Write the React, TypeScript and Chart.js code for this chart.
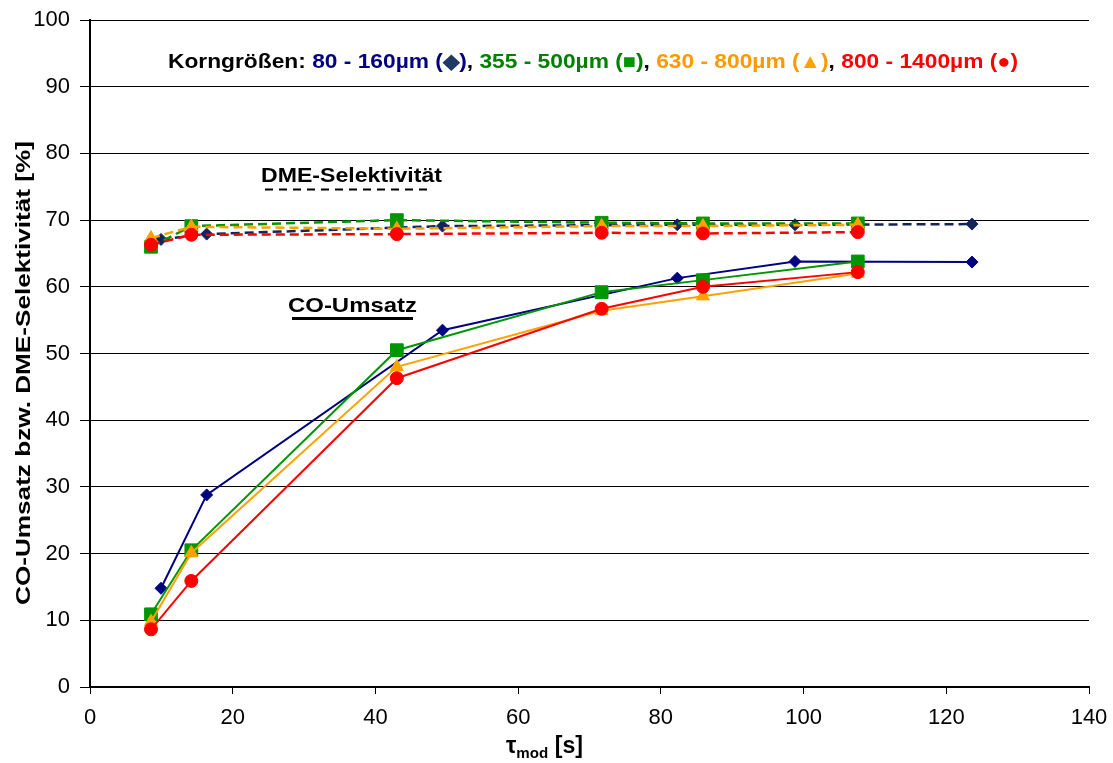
import React, { useEffect, useRef } from 'react';
import { Chart, registerables } from 'chart.js';
Chart.register(...registerables);

// ---- data ----
const xBlue = [9.95, 16.35, 49.4, 82.3, 98.8, 123.6];
const coBlue = [14.8, 28.8, 53.5, 61.3, 63.8, 63.7];
const dmeBlue = [67.1, 67.9, 69.1, 69.3, 69.3, 69.4];

const xOther = [8.55, 14.2, 43.0, 71.7, 85.9, 107.6];
const coGreen = [10.9, 20.5, 50.5, 59.2, 61.0, 63.8];
const dmeGreen = [66.0, 69.1, 70.0, 69.6, 69.5, 69.5];
const coOrange = [9.8, 20.1, 48.0, 56.4, 58.6, 62.0];
const dmeOrange = [67.3, 69.0, 68.7, 69.1, 69.1, 69.3];
const coRed = [8.65, 15.9, 46.3, 56.7, 60.0, 62.2];
const dmeRed = [66.3, 67.8, 67.9, 68.1, 68.0, 68.2];

const xMin = 0, xMax = 140, xStep = 20;
const yMin = 0, yMax = 100, yStep = 10;

const seriesLabels = ['80 - 160µm', '355 - 500µm', '630 - 800µm', '800 - 1400µm'];
const yTitle = 'CO-Umsatz bzw. DME-Selektivität [%]';
const coLabel = 'CO-Umsatz';
const dmeLabel = 'DME-Selektivität';

const NAVY = '#000080';
const NAVY2 = '#13235C';
const GREEN = '#009600';
const ORANGE = '#FFA200';
const RED = '#FF0000';

const pts = (xs: number[], ys: number[]) => xs.map((x, i) => ({ x, y: ys[i] }));

type Seg = { t: string; c: string; f: string };

function fitSegs(ctx: CanvasRenderingContext2D, segs: Seg[], cx: number, base: number, width: number) {
  let total = 0;
  const ws: number[] = [];
  for (const s of segs) {
    ctx.font = s.f;
    const w = ctx.measureText(s.t).width;
    ws.push(w);
    total += w;
  }
  const k = width / total;
  ctx.save();
  ctx.translate(cx - width / 2, base);
  ctx.scale(k, 1);
  ctx.textAlign = 'left';
  ctx.textBaseline = 'alphabetic';
  let x = 0;
  segs.forEach((s, i) => {
    ctx.font = s.f;
    ctx.fillStyle = s.c;
    ctx.fillText(s.t, x, 0);
    x += ws[i];
  });
  ctx.restore();
}

const NARROW = '"Liberation Sans Narrow", "Liberation Sans", Arial, sans-serif';
const SANS = '"Liberation Sans", Arial, sans-serif';

const annotPlugin = {
  id: 'annot',
  afterDraw(chart: any) {
    const ctx: CanvasRenderingContext2D = chart.ctx;
    ctx.save();
    const fL = `bold 21px ${NARROW}`;
    const fS = `bold 20px ${SANS}`;
    // legend line
    const legend: Seg[] = [
      { t: 'Korngrößen: ', c: '#000000', f: fL },
      { t: seriesLabels[0] + ' (', c: NAVY, f: fL },
      { t: '◆', c: '#1F3864', f: fS },
      { t: ')', c: NAVY, f: fL },
      { t: ', ', c: '#000000', f: fL },
      { t: seriesLabels[1] + ' (', c: '#008000', f: fL },
      { t: '■', c: GREEN, f: fS },
      { t: ')', c: '#008000', f: fL },
      { t: ', ', c: '#000000', f: fL },
      { t: seriesLabels[2] + ' (', c: '#FF9900', f: fL },
      { t: '▲', c: ORANGE, f: fS },
      { t: ')', c: '#FF9900', f: fL },
      { t: ', ', c: '#000000', f: fL },
      { t: seriesLabels[3] + ' (', c: RED, f: fL },
      { t: '●', c: RED, f: fS },
      { t: ')', c: RED, f: fL },
    ];
    fitSegs(ctx, legend, 593, 68, 850);

    // DME label + dashed underline
    fitSegs(ctx, [{ t: dmeLabel, c: '#000', f: `bold 21px ${SANS}` }], 351.5, 182, 181);
    ctx.strokeStyle = '#000';
    ctx.lineWidth = 2;
    ctx.setLineDash([8, 6]);
    ctx.beginPath();
    ctx.moveTo(265, 189.5);
    ctx.lineTo(430, 189.5);
    ctx.stroke();
    ctx.setLineDash([]);

    // CO label + solid underline
    fitSegs(ctx, [{ t: coLabel, c: '#000', f: `bold 21px ${SANS}` }], 352.5, 312, 129);
    ctx.lineWidth = 3;
    ctx.beginPath();
    ctx.moveTo(292, 318.5);
    ctx.lineTo(413, 318.5);
    ctx.stroke();

    // y title
    ctx.save();
    ctx.translate(22, 373);
    ctx.rotate(-Math.PI / 2);
    fitSegs(ctx, [{ t: yTitle, c: '#000', f: `bold 21px ${NARROW}` }], 0, 7.5, 464);
    ctx.restore();

    // x title: tau_mod [s]
    const tFont = `bold 23px ${SANS}`;
    const sFont = `bold 15px ${SANS}`;
    ctx.fillStyle = '#000';
    ctx.textBaseline = 'alphabetic';
    ctx.textAlign = 'left';
    ctx.font = tFont;
    const wt = ctx.measureText('τ').width;
    ctx.font = sFont;
    const wm = ctx.measureText('mod').width;
    ctx.font = tFont;
    const ws = ctx.measureText(' [s]').width;
    const total = wt + wm + ws;
    const k = 77 / total;
    ctx.save();
    ctx.translate(506, 0);
    ctx.scale(k, 1);
    ctx.font = tFont;
    ctx.fillText('τ', 0, 753);
    ctx.font = sFont;
    ctx.fillText('mod', wt, 758);
    ctx.font = tFont;
    ctx.fillText(' [s]', wt + wm, 753);
    ctx.restore();

    ctx.restore();
  },
};

export default function App() {
  const ref = useRef<HTMLCanvasElement | null>(null);
  useEffect(() => {
    if (!ref.current) return;
    const mk = (label: string, xs: number[], ys: number[], color: string, mcolor: string, style: string, r: number, dashed: boolean, order: number) => ({
      label,
      data: pts(xs, ys),
      showLine: true,
      borderColor: color,
      backgroundColor: mcolor,
      borderWidth: dashed ? 2.5 : 2,
      borderDash: dashed ? [9, 5] : [],
      pointStyle: style,
      pointRadius: r,
      pointBackgroundColor: mcolor,
      pointBorderColor: mcolor,
      pointBorderWidth: 1,
      tension: 0,
      order,
    });
    const chart = new Chart(ref.current, {
      type: 'scatter',
      data: {
        datasets: [
          mk('CO ' + seriesLabels[0], xBlue, coBlue, NAVY, NAVY, 'rectRot', 6, false, 3),
          mk('DME ' + seriesLabels[0], xBlue, dmeBlue, NAVY2, NAVY2, 'rectRot', 6, true, 3),
          mk('CO ' + seriesLabels[1], xOther, coGreen, GREEN, GREEN, 'rect', 9, false, 2),
          mk('DME ' + seriesLabels[1], xOther, dmeGreen, GREEN, GREEN, 'rect', 9, true, 2),
          mk('CO ' + seriesLabels[2], xOther, coOrange, ORANGE, ORANGE, 'triangle', 7.5, false, 1),
          mk('DME ' + seriesLabels[2], xOther, dmeOrange, ORANGE, ORANGE, 'triangle', 7.5, true, 1),
          mk('CO ' + seriesLabels[3], xOther, coRed, RED, RED, 'circle', 6.5, false, 0),
          mk('DME ' + seriesLabels[3], xOther, dmeRed, RED, RED, 'circle', 6.5, true, 0),
        ] as any,
      },
      options: {
        animation: false,
        responsive: false,
        maintainAspectRatio: false,
        layout: { padding: { left: 0, right: 24, top: 20, bottom: 0 } },
        plugins: { legend: { display: false }, tooltip: { enabled: false }, title: { display: false } },
        scales: {
          x: {
            type: 'linear',
            min: xMin,
            max: xMax,
            ticks: { stepSize: xStep, color: '#000', font: { family: SANS, size: 22 }, padding: 11, maxRotation: 0 },
            grid: { drawOnChartArea: false, drawTicks: true, tickLength: 7, color: '#000', lineWidth: 1 },
            border: { display: true, color: '#000', width: 2 },
            afterFit: (s: any) => { s.height = 76; s.paddingLeft = 0; s.paddingRight = 0; },
          },
          y: {
            type: 'linear',
            min: yMin,
            max: yMax,
            ticks: { stepSize: yStep, color: '#000', font: { family: SANS, size: 22 }, padding: 10 },
            grid: { drawOnChartArea: true, drawTicks: true, tickLength: 10, color: '#000', lineWidth: 1 },
            border: { display: true, color: '#000', width: 2 },
            afterFit: (s: any) => { s.width = 90; s.paddingTop = 0; s.paddingBottom = 0; },
          },
        },
      },
      plugins: [annotPlugin],
    } as any);
    return () => chart.destroy();
  }, []);
  return (
    <div style={{ position: 'absolute', left: 0, top: 0, width: 1113, height: 763, background: '#fff' }}>
      <canvas ref={ref} width={1113} height={763} style={{ display: 'block' }} />
    </div>
  );
}
